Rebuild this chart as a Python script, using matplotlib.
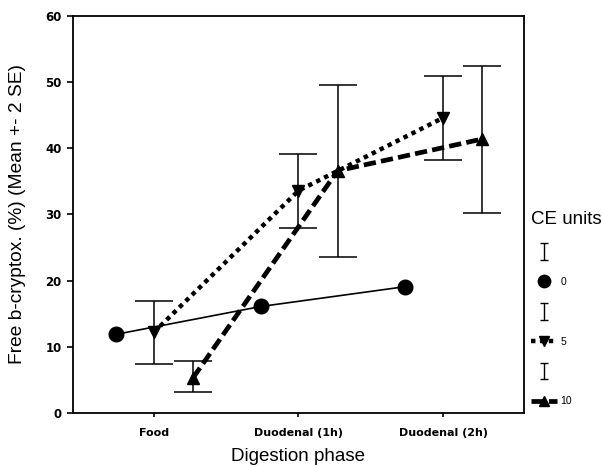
import numpy as np
import matplotlib
matplotlib.use('Agg')
import matplotlib.pyplot as plt
from matplotlib.lines import Line2D
from matplotlib.legend_handler import HandlerErrorbar

plt.rcParams['font.family'] = ['Liberation Sans', 'DejaVu Sans']

phases = ['Food', 'Duodenal (1h)', 'Duodenal (2h)']
ce_units = ['0', '5', '10']

# means and +-2SE bounds
ce0_mean = [11.9, 16.1, 19.1]
ce5_mean = [12.2, 33.6, 44.6]
ce5_lo = [7.4, 28.0, 38.3]
ce5_hi = [17.0, 39.2, 50.9]
ce10_mean = [5.3, 36.6, 41.4]
ce10_lo = [3.2, 23.6, 30.3]
ce10_hi = [7.8, 49.5, 52.4]

x = np.arange(1, len(phases) + 1)
offs = {'0': -0.26, '5': 0.0, '10': 0.27}

fig = plt.figure(figsize=(6.03, 4.66), dpi=100)
ax = fig.add_axes([0.121, 0.1137, 0.748, 0.852])

h0, = ax.plot(x + offs['0'], ce0_mean, color='black', lw=1.2, marker='o',
              markersize=10.5, zorder=3)

m5 = np.array(ce5_mean)
ax.errorbar(x + offs['5'], m5, yerr=[m5 - ce5_lo, np.array(ce5_hi) - m5],
            fmt='none', ecolor='black', elinewidth=1.1, capsize=14, capthick=1.1,
            zorder=2)
h5, = ax.plot(x + offs['5'], m5, color='black', lw=3.2, dashes=(1, 1),
              marker='v', markersize=9, zorder=3)

m10 = np.array(ce10_mean)
ax.errorbar(x + offs['10'], m10, yerr=[m10 - ce10_lo, np.array(ce10_hi) - m10],
            fmt='none', ecolor='black', elinewidth=1.1, capsize=14, capthick=1.1,
            zorder=2)
h10, = ax.plot(x + offs['10'], m10, color='black', lw=3.4, dashes=(2.6, 1.1),
               marker='^', markersize=9, zorder=3)

ax.set_xlim(0.44, 3.56)
ax.set_ylim(0, 60)
ax.set_xticks(x)
ax.set_xticklabels(phases, fontsize=8, fontweight='bold', family='DejaVu Sans')
ax.set_yticks(np.arange(0, 61, 10))
for lab in ax.get_yticklabels():
    lab.set_fontfamily('DejaVu Sans')
    lab.set_fontweight('bold')
ax.tick_params(axis='y', labelsize=8.5, length=4, width=1.2, direction='out',
               pad=4)
ax.tick_params(axis='x', length=3, width=1.2, direction='out', pad=8)
for s in ax.spines.values():
    s.set_linewidth(1.3)

ax.set_xlabel('Digestion phase', fontsize=13.5, labelpad=7)
ax.set_ylabel('Free b-cryptox. (%) (Mean +- 2 SE)', fontsize=13.8)
ax.yaxis.set_label_coords(-0.105, 0.5)

# legend: error bar symbol above each line sample, as in the original
ebar = ax.errorbar([np.nan], [np.nan], yerr=[1], fmt='none', ecolor='black',
                   elinewidth=1, capsize=3.2, capthick=1)
h0_leg = Line2D([], [], color='black', marker='o', markersize=10.5,
                linestyle='none')
handles = [ebar, h0_leg, ebar, h5, ebar, h10]
labels = ['', ce_units[0], '', ce_units[1], '', ce_units[2]]
leg = ax.legend(handles, labels, title='CE units', title_fontsize=13.5,
                fontsize=7.5, frameon=False, loc='upper left',
                bbox_to_anchor=(1.016, 0.51), handlelength=2.5,
                handletextpad=0.3, labelspacing=1.9, borderpad=0,
                borderaxespad=0, numpoints=1, markerscale=0.85,
                alignment='left',
                handler_map={type(ebar): HandlerErrorbar(yerr_size=0.8)})

fig.savefig('out.png', dpi=100)
